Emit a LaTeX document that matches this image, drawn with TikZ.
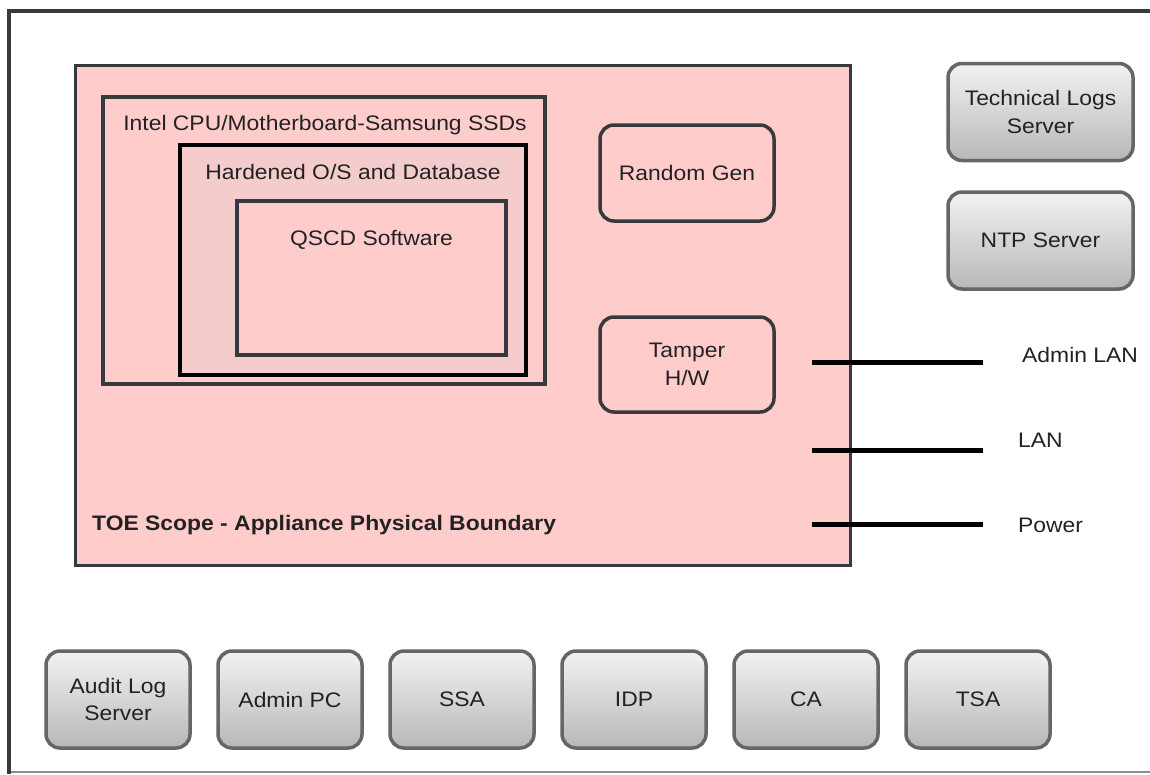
\documentclass[tikz,border=0pt]{standalone}
\usepackage{fontspec}
\setmainfont{Liberation Sans}[FakeStretch=1.09]
\definecolor{pinkfill}{HTML}{FFCCCC}
\definecolor{hardfill}{HTML}{F5CCCC}
\definecolor{darkline}{HTML}{36393D}
\definecolor{grayline}{HTML}{666666}
\definecolor{txt}{HTML}{222222}
\begin{document}
\begin{tikzpicture}[x=1pt,y=-1pt,
  every node/.style={font=\fontsize{21}{27.5}\selectfont, text=txt},
  plainbox/.style={draw=darkline, line width=3.5pt, fill=pinkfill, inner sep=0pt},
  roundbox/.style={draw=darkline, line width=3.5pt, fill=pinkfill, rounded corners=14pt, align=center, inner sep=0pt, minimum width=174pt, minimum height=96pt},
  graybox/.style={draw=grayline, line width=3.5pt, top color=white!95!black, bottom color=black!28, rounded corners=14pt, align=center, inner sep=0pt, minimum height=97pt},
  wire/.style={line width=5pt, black},
  lbl/.style={anchor=west, inner sep=0pt}
]
\useasboundingbox (0,0) rectangle (1150,774);
\fill[white] (0,0) rectangle (1150,774);
% outer frame
\draw[line width=2pt, black!45] (9,772) -- (1150,772);
\draw[line width=4.5pt, darkline] (9,774) -- (9,11) -- (1150,11);
% TOE boundary
\node[plainbox, line width=3pt, minimum width=775pt, minimum height=500pt] (toe) at (462.5,315) {};
\node[anchor=west, inner sep=0pt, font=\fontsize{21}{25}\selectfont\bfseries] (toelbl) at (92,525) {TOE Scope - Appliance Physical Boundary};
% nested boxes
\node[plainbox, minimum width=442pt, minimum height=287pt] (intel) at (324,240.5) {};
\node[anchor=center, inner sep=0pt] (intellbl) at (325,125) {Intel CPU/Motherboard-Samsung SSDs};
\node[plainbox, draw=black, line width=4pt, fill=hardfill, minimum width=346pt, minimum height=230pt] (hard) at (353,260) {};
\node[anchor=center, inner sep=0pt] (hardlbl) at (353,172) {Hardened O/S and Database};
\node[plainbox, minimum width=269pt, minimum height=154pt] (qscd) at (371.5,278) {};
\node[anchor=center, inner sep=0pt] (qscdlbl) at (371.5,240) {QSCD Software};
% internal components
\node[roundbox] (rng) at (687,173) {Random Gen};
\node[roundbox, minimum height=95pt] (tamper) at (687,364.5) {Tamper\\H/W};
% external servers
\node[graybox, minimum width=185pt] (tls) at (1040.5,112) {Technical Logs\\Server};
\node[graybox, minimum width=185pt] (ntp) at (1040.5,240.5) {NTP Server};
% wires
\coordinate (a1) at (812,362); \coordinate (a2) at (983,362);
\coordinate (l1) at (812,450); \coordinate (l2) at (983,450);
\coordinate (p1) at (812,524); \coordinate (p2) at (983,524);
\draw[wire] (a1) -- (a2);
\draw[wire] (l1) -- (l2);
\draw[wire] (p1) -- (p2);
\node[lbl] (adminlan) at (1022,355) {Admin LAN};
\node[lbl] (lan) at (1018,440) {LAN};
\node[lbl] (power) at (1018,525) {Power};
% bottom row
\node[graybox, minimum width=144pt] (audit) at (118,699.5) {Audit Log\\Server};
\node[graybox, minimum width=144pt] (adminpc) at (290,699.5) {Admin PC};
\node[graybox, minimum width=144pt] (ssa) at (462,699.5) {SSA};
\node[graybox, minimum width=144pt] (idp) at (634,699.5) {IDP};
\node[graybox, minimum width=144pt] (ca) at (806,699.5) {CA};
\node[graybox, minimum width=144pt] (tsa) at (978,699.5) {TSA};
\end{tikzpicture}
\end{document}
